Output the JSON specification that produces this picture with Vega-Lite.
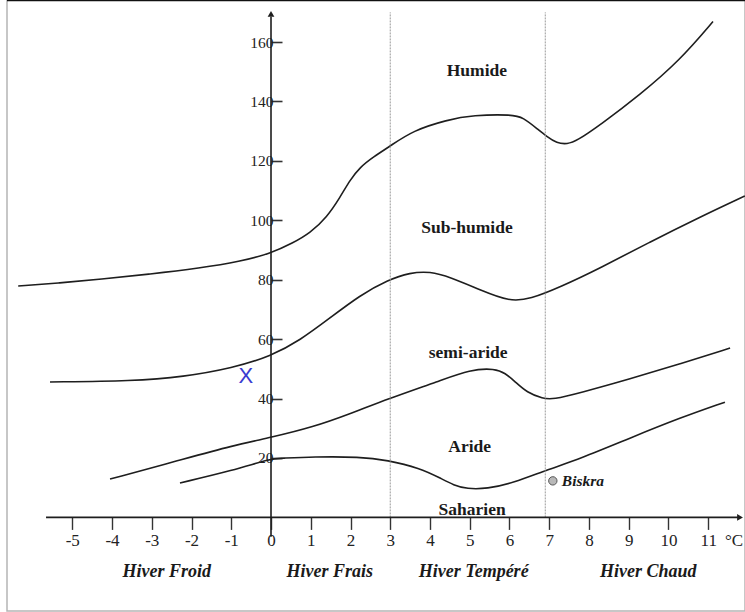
{
  "$schema": "https://vega.github.io/schema/vega-lite/v6.json",
  "width": 738,
  "height": 611,
  "autosize": "none",
  "padding": {"left": 7, "top": 0, "right": 0, "bottom": 1},
  "background": "white",
  "config": {"view": {"stroke": "#b5b5b5", "strokeWidth": 1.5}, "font": "Liberation Serif"},
  "datasets": {
    "curves": [
      {"curve": "c1", "i": 1, "t": -6.36, "p": 77.9},
      {"curve": "c1", "i": 2, "t": -5.31, "p": 78.9},
      {"curve": "c1", "i": 3, "t": -4.3, "p": 80.2},
      {"curve": "c1", "i": 4, "t": -3.04, "p": 81.9},
      {"curve": "c1", "i": 5, "t": -1.79, "p": 83.9},
      {"curve": "c1", "i": 6, "t": -0.78, "p": 86.1},
      {"curve": "c1", "i": 7, "t": 0, "p": 88.9},
      {"curve": "c1", "i": 8, "t": 0.55, "p": 92.4},
      {"curve": "c1", "i": 9, "t": 0.98, "p": 95.7},
      {"curve": "c1", "i": 10, "t": 1.41, "p": 101.1},
      {"curve": "c1", "i": 11, "t": 1.74, "p": 107.8},
      {"curve": "c1", "i": 12, "t": 1.99, "p": 113.6},
      {"curve": "c1", "i": 13, "t": 2.24, "p": 117.9},
      {"curve": "c1", "i": 14, "t": 2.57, "p": 121.3},
      {"curve": "c1", "i": 15, "t": 3.0, "p": 125.0},
      {"curve": "c1", "i": 16, "t": 3.57, "p": 130.2},
      {"curve": "c1", "i": 17, "t": 4.43, "p": 133.8},
      {"curve": "c1", "i": 18, "t": 5.08, "p": 135.4},
      {"curve": "c1", "i": 19, "t": 6.09, "p": 135.6},
      {"curve": "c1", "i": 20, "t": 6.34, "p": 134.6},
      {"curve": "c1", "i": 21, "t": 6.69, "p": 130.9},
      {"curve": "c1", "i": 22, "t": 6.94, "p": 128.2},
      {"curve": "c1", "i": 23, "t": 7.19, "p": 126.0},
      {"curve": "c1", "i": 24, "t": 7.45, "p": 125.6},
      {"curve": "c1", "i": 25, "t": 7.7, "p": 126.8},
      {"curve": "c1", "i": 26, "t": 8.28, "p": 132.1},
      {"curve": "c1", "i": 27, "t": 9.28, "p": 142.2},
      {"curve": "c1", "i": 28, "t": 10.29, "p": 153.9},
      {"curve": "c1", "i": 29, "t": 11.12, "p": 166.9},

      {"curve": "c2", "i": 1, "t": -5.56, "p": 45.6},
      {"curve": "c2", "i": 2, "t": -3.47, "p": 45.9},
      {"curve": "c2", "i": 3, "t": -2.21, "p": 47.3},
      {"curve": "c2", "i": 4, "t": -0.96, "p": 50.3},
      {"curve": "c2", "i": 5, "t": 0, "p": 54.3},
      {"curve": "c2", "i": 6, "t": 0.73, "p": 59.6},
      {"curve": "c2", "i": 7, "t": 1.48, "p": 67.1},
      {"curve": "c2", "i": 8, "t": 2.24, "p": 74.8},
      {"curve": "c2", "i": 9, "t": 2.94, "p": 79.9},
      {"curve": "c2", "i": 10, "t": 3.5, "p": 82.4},
      {"curve": "c2", "i": 11, "t": 4.0, "p": 82.8},
      {"curve": "c2", "i": 12, "t": 4.5, "p": 80.9},
      {"curve": "c2", "i": 13, "t": 5.26, "p": 76.6},
      {"curve": "c2", "i": 14, "t": 6.01, "p": 72.6},
      {"curve": "c2", "i": 15, "t": 6.52, "p": 73.5},
      {"curve": "c2", "i": 16, "t": 7.27, "p": 77.5},
      {"curve": "c2", "i": 17, "t": 8.28, "p": 83.9},
      {"curve": "c2", "i": 18, "t": 9.53, "p": 92.7},
      {"curve": "c2", "i": 19, "t": 10.79, "p": 101.1},
      {"curve": "c2", "i": 20, "t": 11.92, "p": 108.2},

      {"curve": "c3", "i": 1, "t": -4.05, "p": 12.9},
      {"curve": "c3", "i": 2, "t": -2.29, "p": 19.3},
      {"curve": "c3", "i": 3, "t": -0.96, "p": 24.2},
      {"curve": "c3", "i": 4, "t": 0, "p": 26.9},
      {"curve": "c3", "i": 5, "t": 1.06, "p": 30.4},
      {"curve": "c3", "i": 6, "t": 2.0, "p": 34.9},
      {"curve": "c3", "i": 7, "t": 2.92, "p": 39.8},
      {"curve": "c3", "i": 8, "t": 4.25, "p": 46.0},
      {"curve": "c3", "i": 9, "t": 5.01, "p": 49.8},
      {"curve": "c3", "i": 10, "t": 5.64, "p": 50.1},
      {"curve": "c3", "i": 11, "t": 5.89, "p": 48.6},
      {"curve": "c3", "i": 12, "t": 6.14, "p": 45.7},
      {"curve": "c3", "i": 13, "t": 6.44, "p": 42.0},
      {"curve": "c3", "i": 14, "t": 6.84, "p": 40.0},
      {"curve": "c3", "i": 15, "t": 7.09, "p": 39.7},
      {"curve": "c3", "i": 16, "t": 7.77, "p": 41.9},
      {"curve": "c3", "i": 17, "t": 9.03, "p": 46.6},
      {"curve": "c3", "i": 18, "t": 10.29, "p": 51.7},
      {"curve": "c3", "i": 19, "t": 11.55, "p": 57.0},

      {"curve": "c4", "i": 1, "t": -2.29, "p": 11.6},
      {"curve": "c4", "i": 2, "t": -0.96, "p": 15.8},
      {"curve": "c4", "i": 3, "t": 0, "p": 19.8},
      {"curve": "c4", "i": 4, "t": 0.23, "p": 19.9},
      {"curve": "c4", "i": 5, "t": 1.06, "p": 20.4},
      {"curve": "c4", "i": 6, "t": 2.24, "p": 20.4},
      {"curve": "c4", "i": 7, "t": 2.92, "p": 19.3},
      {"curve": "c4", "i": 8, "t": 3.75, "p": 16.6},
      {"curve": "c4", "i": 9, "t": 4.25, "p": 13.3},
      {"curve": "c4", "i": 10, "t": 4.6, "p": 10.8},
      {"curve": "c4", "i": 11, "t": 4.93, "p": 9.6},
      {"curve": "c4", "i": 12, "t": 5.43, "p": 9.6},
      {"curve": "c4", "i": 13, "t": 6.09, "p": 11.6},
      {"curve": "c4", "i": 14, "t": 6.94, "p": 16.0},
      {"curve": "c4", "i": 15, "t": 7.77, "p": 19.7},
      {"curve": "c4", "i": 16, "t": 9.03, "p": 26.7},
      {"curve": "c4", "i": 17, "t": 10.29, "p": 33.5},
      {"curve": "c4", "i": 18, "t": 11.42, "p": 38.8}
    ],
    "zones": [
      {"label": "Humide", "t": 5.18, "p": 150.3},
      {"label": "Sub-humide", "t": 4.93, "p": 97.4},
      {"label": "semi-aride", "t": 4.96, "p": 55.3},
      {"label": "Aride", "t": 5.0, "p": 23.7},
      {"label": "Saharien", "t": 5.06, "p": 2.6}
    ],
    "winters": [
      {"label": "Hiver Froid", "t": -2.62, "p": -18.4},
      {"label": "Hiver Frais", "t": 1.48, "p": -18.4},
      {"label": "Hiver Tempéré", "t": 5.1, "p": -18.4},
      {"label": "Hiver Chaud", "t": 9.49, "p": -18.4}
    ],
    "stations": [
      {"name": "Biskra", "t": 7.09, "p": 12.3}
    ],
    "site": [
      {"name": "X", "t": -0.63, "p": 47.5}
    ],
    "one": [{}]
  },
  "layer": [
    {
      "data": {"name": "curves"},
      "mark": {"type": "line", "interpolate": "basis", "color": "#1e1e1e", "strokeWidth": 1.6},
      "encoding": {
        "x": {
          "field": "t", "type": "quantitative",
          "scale": {"domain": [-6.642, 11.925], "nice": false, "zero": false},
          "axis": {
            "orient": "bottom", "offset": -93.6, "title": null, "grid": false, "domain": false,
            "values": [-5, -4, -3, -2, -1, 0, 1, 2, 3, 4, 5, 6, 7, 8, 9, 10, 11],
            "labelExpr": "datum.value < 0 ? '-' + abs(datum.value) : '' + datum.value",
            "tickSize": 12, "tickColor": "#333333", "tickWidth": 1.4,
            "labelFont": "Liberation Serif", "labelFontSize": 17, "labelColor": "#222222",
            "labelPadding": 3, "labelFlush": false, "labelOverlap": false
          }
        },
        "y": {
          "field": "p", "type": "quantitative",
          "scale": {"domain": [-31.5, 174.15], "nice": false, "zero": false},
          "axis": {
            "orient": "left", "offset": -264, "title": null, "grid": false, "domain": false,
            "values": [20, 40, 60, 80, 100, 120, 140, 160],
            "ticks": true, "tickSize": -11, "tickColor": "#333333", "tickWidth": 1.6,
            "labelFont": "Liberation Serif", "labelFontSize": 15.5, "labelColor": "#222222",
            "labelPadding": 9, "labelFlush": false, "labelOverlap": false
          }
        },
        "detail": {"field": "curve", "type": "nominal"},
        "order": {"field": "i", "type": "quantitative"}
      }
    },
    {
      "mark": {"type": "rule", "color": "#9a9a9a", "strokeWidth": 1, "strokeDash": [2, 1]},
      "data": {"values": [{"v": 3}, {"v": 6.9}]},
      "encoding": {
        "x": {"field": "v", "type": "quantitative"},
        "y": {"datum": 0},
        "y2": {"datum": 170}
      }
    },
    {
      "data": {"name": "one"},
      "mark": {"type": "rule", "color": "#1e1e1e", "strokeWidth": 1.6},
      "encoding": {
        "x": {"datum": -5.66},
        "x2": {"datum": 11.8},
        "y": {"datum": 0}
      }
    },
    {
      "data": {"name": "one"},
      "mark": {"type": "rule", "color": "#1e1e1e", "strokeWidth": 1.6},
      "encoding": {
        "x": {"datum": 0},
        "y": {"datum": -6.5},
        "y2": {"datum": 168.5}
      }
    },
    {
      "data": {"name": "one"},
      "mark": {"type": "rule", "color": "#111111", "strokeWidth": 2.5},
      "encoding": {
        "x": {"datum": -6.642},
        "x2": {"datum": 11.925},
        "y": {"datum": 174.15}
      }
    },
    {
      "data": {"name": "one"},
      "mark": {"type": "point", "shape": "triangle-up", "filled": true, "color": "#1e1e1e", "size": 45, "opacity": 1},
      "encoding": {
        "x": {"datum": 0},
        "y": {"datum": 169.5}
      }
    },
    {
      "data": {"name": "one"},
      "mark": {"type": "point", "shape": "triangle-right", "filled": true, "color": "#1e1e1e", "size": 45, "opacity": 1},
      "encoding": {
        "x": {"datum": 11.8},
        "y": {"datum": 0}
      }
    },
    {
      "data": {"name": "zones"},
      "mark": {"type": "text", "font": "Liberation Serif", "fontWeight": "bold", "fontSize": 17.5, "color": "#1a1a1a"},
      "encoding": {
        "x": {"field": "t", "type": "quantitative"},
        "y": {"field": "p", "type": "quantitative"},
        "text": {"field": "label"}
      }
    },
    {
      "data": {"name": "winters"},
      "mark": {"type": "text", "font": "Liberation Serif", "fontWeight": "bold", "fontStyle": "italic", "fontSize": 18, "color": "#1a1a1a"},
      "encoding": {
        "x": {"field": "t", "type": "quantitative"},
        "y": {"field": "p", "type": "quantitative"},
        "text": {"field": "label"}
      }
    },
    {
      "data": {"name": "one"},
      "mark": {"type": "text", "font": "Liberation Serif", "fontSize": 17, "color": "#222222", "align": "left"},
      "encoding": {
        "x": {"datum": 11.42},
        "y": {"datum": -8.0},
        "text": {"value": "°C"}
      }
    },
    {
      "data": {"name": "stations"},
      "mark": {"type": "point", "shape": "circle", "filled": true, "fill": "#b8b8b8", "stroke": "#555555", "strokeWidth": 1, "size": 70, "opacity": 1},
      "encoding": {
        "x": {"field": "t", "type": "quantitative"},
        "y": {"field": "p", "type": "quantitative"}
      }
    },
    {
      "data": {"name": "stations"},
      "mark": {"type": "text", "font": "Liberation Serif", "fontWeight": "bold", "fontStyle": "italic", "fontSize": 15.5, "color": "#1a1a1a", "align": "left", "dx": 9},
      "encoding": {
        "x": {"field": "t", "type": "quantitative"},
        "y": {"field": "p", "type": "quantitative"},
        "text": {"field": "name"}
      }
    },
    {
      "data": {"name": "site"},
      "mark": {"type": "text", "font": "Liberation Sans", "fontSize": 22, "color": "#3a3ad0"},
      "encoding": {
        "x": {"field": "t", "type": "quantitative"},
        "y": {"field": "p", "type": "quantitative"},
        "text": {"field": "name"}
      }
    }
  ]
}
